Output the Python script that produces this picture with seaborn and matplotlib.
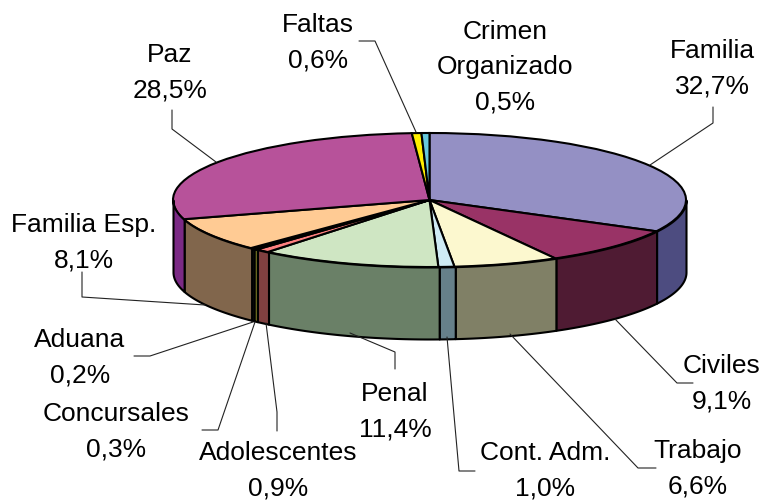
import numpy as np
import matplotlib
matplotlib.use("Agg")
import matplotlib.pyplot as plt
import seaborn as sns

# porcentajes en sentido horario desde arriba
materias = ['Familia', 'Civiles', 'Trabajo', 'Cont. Adm.', 'Penal', 'Adolescentes',
            'Concursales', 'Aduana', 'Familia Esp.', 'Paz', 'Faltas', 'Crimen\nOrganizado']
valores = [32.7, 9.1, 6.6, 1.0, 11.4, 0.9, 0.3, 0.2, 8.1, 28.5, 0.6, 0.5]
colores_top = ['#9490C4', '#993366', '#FCF8CF', '#CFEBF4', '#CFE6C3', '#FF8080',
               '#D6D64A', '#3A3A3A', '#FFCB94', '#B7529A', '#FFEE00', '#66C8DC']
colores_lado = ['#4D4C80', '#4F1B33', '#808066', '#66808A', '#6A8067', '#804040',
                '#6F6F20', '#202020', '#81664C', '#7B2A85', '#808000', '#336672']

# posicion de cada etiqueta en pixeles
etiqueta_x = [712, 722, 698, 545, 395, 278, 116, 80, 84, 170, 318, 505]
etiqueta_y = [69, 384, 469, 471, 412, 471, 432, 358, 243, 73, 43, 67]

# lineas guia en pixeles
guias = [
    [(713, 107), (713, 123), (650, 165)],
    [(693, 383), (677, 383), (615, 319)],
    [(656, 468), (638, 468), (510, 334)],
    [(475, 471), (459, 471), (447, 337)],
    [(395, 369), (395, 352), (350, 333)],
    [(277, 431), (277, 412), (266, 323)],
    [(202, 430), (218, 430), (255, 322)],
    [(134, 356), (150, 356), (253, 322)],
    [(82, 272), (82, 297), (205, 305)],
    [(172, 110), (172, 129), (216, 162)],
    [(359, 41), (375, 41), (416, 132)],
]

cx, cy, rx, ry, alto = 429.5, 200, 256.5, 67, 72
w, h = 779, 501


def px(x, y):
    return (np.asarray(x) - cx) / rx, (cy - np.asarray(y)) / ry


sns.set_theme(style="white")
plt.rcParams['font.family'] = ['Liberation Sans', 'DejaVu Sans']
fig = plt.figure(figsize=(w / 100, h / 100), dpi=100)
ax = fig.add_axes([0, 0, 1, 1])

# cara superior
ax.pie(valores, colors=sns.color_palette(colores_top), startangle=90, counterclock=False,
       radius=1, wedgeprops={'edgecolor': 'black', 'linewidth': 1.5}, normalize=True)
ax.set_aspect('auto')
x0, y0 = px(0, h)
x1, y1 = px(w, 0)
ax.set_xlim(x0, x1)
ax.set_ylim(y0, y1)

# pared lateral, solo la mitad delantera
acum = np.cumsum([0] + valores) * 3.6
prof = alto / ry
for i, c in enumerate(sns.color_palette(colores_lado)):
    a = max(acum[i], 90)
    b = min(acum[i + 1], 270)
    if b <= a:
        continue
    t = np.radians(np.linspace(a, b, 60))
    ax.fill_between(np.sin(t), np.cos(t), np.cos(t) - prof, facecolor=c,
                    edgecolor='black', linewidth=1.5, zorder=1)

for g in guias:
    gx, gy = px([p[0] for p in g], [p[1] for p in g])
    ax.plot(gx, gy, color='#222222', lw=0.8, zorder=3)

for m, v, tx, ty in zip(materias, valores, etiqueta_x, etiqueta_y):
    lx, ly = px(tx, ty)
    txt = m + '\n' + f'{v:.1f}%'.replace('.', ',')
    ax.text(lx, ly, txt, ha='center', va='center', fontsize=19, color='black',
            linespacing=1.58, zorder=4)

fig.savefig('out.png', dpi=100)
